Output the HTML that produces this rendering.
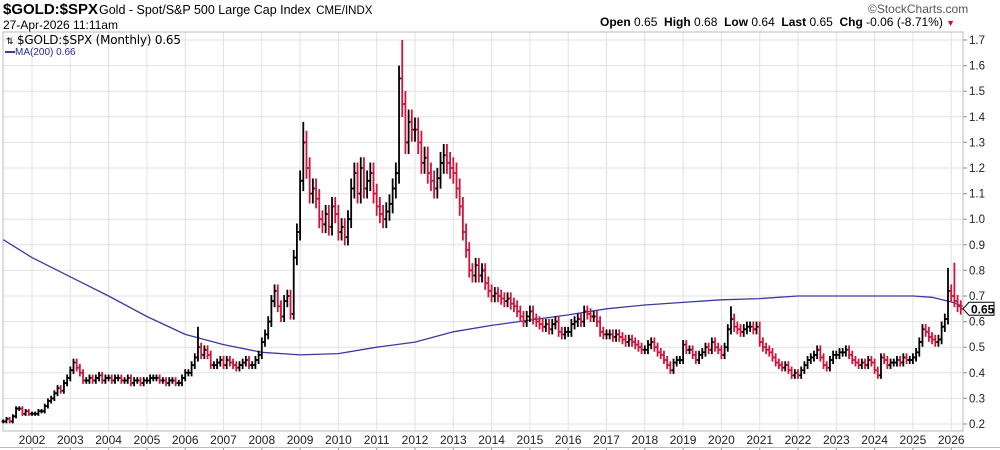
<!DOCTYPE html>
<html><head><meta charset="utf-8">
<style>
body{margin:0;background:#fff;width:1000px;height:450px;overflow:hidden;font-family:"Liberation Sans",sans-serif;}
#wrap{position:relative;width:1000px;height:450px;}
.t{position:absolute;white-space:nowrap;color:#000;}
</style></head><body>
<div id="wrap">
<div class="t" style="left:3px;top:1px;font-size:15px;font-weight:bold;">$GOLD:$SPX</div>
<div class="t" style="left:99px;top:3px;font-size:12.5px;">Gold - Spot/S&amp;P 500 Large Cap Index <span style="font-size:11.5px;margin-left:2px">CME/INDX</span></div>
<div class="t" style="left:3px;top:18px;font-size:12px;">27-Apr-2026 11:11am</div>
<div class="t" style="left:868px;top:2px;font-size:12px;color:#555;">©StockCharts.com</div>
<div class="t" style="left:600px;top:15px;font-size:12px;"><b>Open</b> 0.65 &nbsp;<b>High</b> 0.68 &nbsp;<b>Low</b> 0.64 &nbsp;<b>Last</b> 0.65 &nbsp;<b>Chg</b> -0.06 (-8.71%) <span style="color:#c8143c;font-size:9px">▼</span></div>
<svg id="svg" width="1000" height="450" style="position:absolute;left:0;top:0"></svg>
<div class="t" style="left:6px;top:33px;font-size:12px;font-family:'DejaVu Sans',sans-serif;letter-spacing:-0.2px;"><span style="font-size:9px">⇅</span> $GOLD:$SPX (Monthly) 0.65</div>
<div class="t" style="left:5px;top:47px;font-size:10px;color:#2a2a8c;"><span style="display:inline-block;width:10px;height:2px;background:#3a3aa0;vertical-align:middle"></span>MA(200) 0.66</div>
</div>
<script>
const startYear = 2001, startMonth = 4;
const closes = [
0.21,0.22,0.21,0.23,0.26,0.26,0.24,0.25,0.24,
0.24,0.24,0.25,0.25,0.27,0.29,0.30,0.32,0.34,0.33,0.36,0.38,
0.41,0.44,0.42,0.40,0.37,0.37,0.38,0.37,0.38,0.39,0.37,0.38,
0.38,0.37,0.38,0.38,0.37,0.37,0.38,0.36,0.37,0.37,0.36,0.37,
0.37,0.38,0.38,0.38,0.37,0.37,0.36,0.37,0.37,0.36,0.36,0.38,
0.40,0.40,0.43,0.46,0.50,0.47,0.49,0.47,0.43,0.43,0.44,0.45,
0.43,0.45,0.44,0.43,0.42,0.43,0.44,0.45,0.43,0.43,0.45,0.47,
0.52,0.55,0.60,0.68,0.72,0.66,0.62,0.68,0.70,0.63,0.85,0.95,
1.15,1.30,1.20,1.10,1.12,1.08,1.00,0.98,1.02,0.97,1.05,1.02,
0.95,0.97,0.93,1.00,1.12,1.18,1.10,1.20,1.12,1.15,1.18,1.10,
1.05,1.02,1.00,1.03,1.06,1.12,1.18,1.55,1.45,1.30,1.38,1.35,
1.35,1.30,1.22,1.24,1.18,1.15,1.12,1.16,1.22,1.25,1.22,1.20,
1.18,1.12,1.05,0.95,0.88,0.80,0.78,0.82,0.78,0.80,0.75,0.72,
0.70,0.71,0.70,0.69,0.68,0.69,0.67,0.66,0.64,0.62,0.60,0.62,
0.64,0.61,0.60,0.59,0.58,0.59,0.57,0.59,0.60,0.56,0.55,0.56,
0.56,0.59,0.60,0.61,0.60,0.64,0.63,0.62,0.62,0.60,0.56,0.55,
0.55,0.55,0.54,0.55,0.54,0.53,0.52,0.53,0.52,0.51,0.50,0.49,
0.49,0.51,0.52,0.50,0.48,0.47,0.45,0.43,0.41,0.44,0.45,0.45,
0.51,0.49,0.49,0.47,0.45,0.47,0.48,0.50,0.49,0.52,0.50,0.49,
0.47,0.50,0.57,0.61,0.58,0.57,0.56,0.57,0.58,0.58,0.57,0.58,
0.52,0.50,0.49,0.48,0.46,0.44,0.43,0.42,0.43,0.41,0.39,0.40,
0.39,0.41,0.43,0.45,0.46,0.47,0.49,0.46,0.43,0.42,0.45,0.47,
0.47,0.48,0.48,0.49,0.47,0.45,0.44,0.43,0.44,0.43,0.45,0.44,
0.41,0.39,0.46,0.45,0.43,0.44,0.44,0.45,0.44,0.46,0.45,0.45,
0.46,0.48,0.52,0.57,0.56,0.54,0.53,0.52,0.53,0.58,0.61,0.72,
0.70,0.68,0.66,0.65];
const spikeIdx = [61, 94, 124, 125, 228, 296, 298];
const spikeHigh = [0.58, 1.38, 1.60, 1.70, 0.66, 0.81, 0.83];
const maYears = [2001.25,2002,2003,2004,2005,2006,2007,2008,2009,2010,2011,2012,2013,2014,2015,2016,2017,2018,2019,2020,2021,2022,2023,2024,2025,2025.5,2026,2026.3];
const maValues = [0.92,0.85,0.775,0.70,0.62,0.55,0.51,0.48,0.47,0.475,0.50,0.52,0.56,0.585,0.606,0.626,0.65,0.665,0.675,0.685,0.69,0.70,0.70,0.70,0.70,0.695,0.677,0.66];
const yTicks = [0.2,0.3,0.4,0.5,0.6,0.7,0.8,0.9,1.0,1.1,1.2,1.3,1.4,1.5,1.6,1.7];
const xTickYears = [2002,2003,2004,2005,2006,2007,2008,2009,2010,2011,2012,2013,2014,2015,2016,2017,2018,2019,2020,2021,2022,2023,2024,2025,2026];
const lastValue = 0.65;

const NS='http://www.w3.org/2000/svg';
const svg=document.getElementById('svg');
const L=3,R=963,T=32,B=431;
function xs(t){return 32+(t-2002)*38.3;}
function ys(v){return 424-(v-0.2)*256;}
function mk(tag,a,name){const e=document.createElementNS(NS,tag);for(const k in a)e.setAttribute(k,a[k]);


svg.appendChild(e);return e;}
mk('rect',{x:L,y:T,width:R-L,height:B-T,fill:'#fff',stroke:'#bbb','stroke-width':1},'plot-frame');
yTicks.forEach(v=>{const y=ys(v);
 mk('line',{x1:L,x2:R,y1:y,y2:y,stroke:'#e2e2e2','stroke-width':1},'y-gridline');
 mk('line',{x1:R,x2:R+4,y1:y,y2:y,stroke:'#888','stroke-width':1},'y-tick');
 const t=mk('text',{x:R+6,y:y+4,'font-size':11.5,fill:'#222','font-family':'Liberation Sans,sans-serif'},'y-tick-label');t.textContent=v.toFixed(1);
});
xTickYears.forEach(yr=>{const x=xs(yr);
 mk('line',{x1:x,x2:x,y1:T,y2:B,stroke:'#e2e2e2','stroke-width':1},'x-gridline');
 mk('line',{x1:x,x2:x,y1:447,y2:450,stroke:'#999','stroke-width':1},'x-tick');
 const t=mk('text',{x:x,y:444,'font-size':12,fill:'#222','text-anchor':'middle','font-family':'Liberation Sans,sans-serif'},'x-tick-label');t.textContent=yr;
});
mk('line',{x1:0,x2:1000,y1:447.5,y2:447.5,stroke:'#bbb','stroke-width':1},'bottom-border');
mk('rect',{x:L,y:T,width:R-L,height:B-T,fill:'none',stroke:'#bbb','stroke-width':1},'plot-border');
let d='';maYears.forEach((t,i)=>{d+=(i?'L':'M')+xs(t).toFixed(1)+' '+ys(maValues[i]).toFixed(1);});
mk('path',{d:d,fill:'none',stroke:'#3a3aa0','stroke-width':1.3,'stroke-linejoin':'round'},'ma200-line');
closes.forEach((c,i)=>{
 const o=i?closes[i-1]:c;
 let hi=Math.max(o,c)*1.035, lo=Math.min(o,c)*0.965;
 const si=spikeIdx.indexOf(i); if(si>=0) hi=spikeHigh[si];
 const m=startMonth-1+i; const t=startYear+m/12;
 const x=xs(t); const col=c<o?'#d0143c':'#000';
 const g=mk('g',{stroke:col,'stroke-width':1.8},'price-bar');
 const a=(tag,at)=>{const e=document.createElementNS(NS,tag);for(const k in at)e.setAttribute(k,at[k]);g.appendChild(e);return e;};
 a('line',{x1:x,x2:x,y1:ys(hi),y2:ys(lo)});
 a('line',{x1:x-1.8,x2:x,y1:ys(o),y2:ys(o)});
 a('line',{x1:x,x2:x+1.8,y1:ys(c),y2:ys(c)});
});
const ly=ys(lastValue);
mk('path',{d:`M${R} ${ly} L${R+6} ${ly-6.5} L${R+31} ${ly-6.5} L${R+31} ${ly+6.5} L${R+6} ${ly+6.5} Z`,fill:'#fff',stroke:'#000','stroke-width':1},'last-value-box');
const lt=mk('text',{x:R+8,y:ly+4.5,'font-size':12,'font-weight':'bold',fill:'#000','font-family':'Liberation Sans,sans-serif'},'last-value-label');lt.textContent=lastValue.toFixed(2);
</script>
</body></html>
